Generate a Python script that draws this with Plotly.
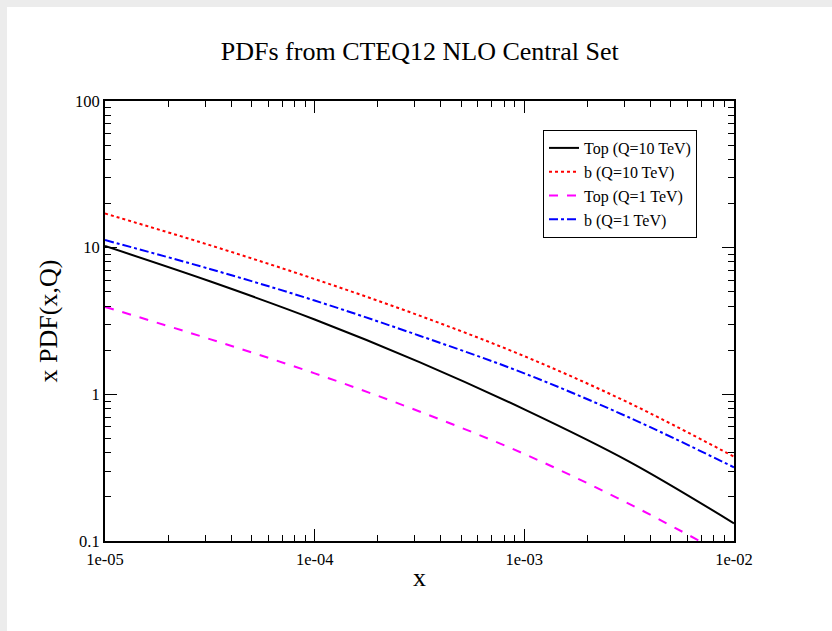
import plotly.graph_objects as go

# Data
x_vals = [1e-5, 3.162e-5, 1e-4, 3.162e-4, 1e-3, 3.162e-3, 1e-2]
top_10tev = [10.26, 5.90, 3.24, 1.66, 0.79, 0.348, 0.132]
b_10tev = [17.1, 10.4, 6.11, 3.44, 1.82, 0.873, 0.376]
top_1tev = [3.95, 2.38, 1.39, 0.764, 0.392, 0.179, 0.0746]
b_1tev = [11.27, 7.16, 4.36, 2.51, 1.39, 0.695, 0.318]

series_names = ["Top (Q=10 TeV)", "b (Q=10 TeV)", "Top (Q=1 TeV)", "b (Q=1 TeV)"]
x_tickvals = [1e-5, 1e-4, 1e-3, 1e-2]
x_ticktext = ["1e-05", "1e-04", "1e-03", "1e-02"]
y_tickvals = [0.1, 1, 10, 100]
y_ticktext = ["0.1", "1", "10", "100"]
x_minor = [k * 10.0 ** d for d in (-5, -4, -3) for k in range(2, 10)]
y_minor = [k * 10.0 ** d for d in (-1, 0, 1) for k in range(2, 10)]

FONT = "Liberation Serif"

fig = go.Figure()
styles = [
    dict(color="black", dash="solid", width=2),
    dict(color="red", dash="dot", width=2),
    dict(color="magenta", dash="dash", width=2),
    dict(color="blue", dash="dashdot", width=2),
]
for name, ys, st in zip(series_names, [top_10tev, b_10tev, top_1tev, b_1tev], styles):
    fig.add_trace(go.Scatter(x=x_vals, y=ys, mode="lines", name=name,
                             line=dict(shape="spline", smoothing=1.0, **st)))

axis_common = dict(
    type="log", showgrid=False, zeroline=False,
    showline=True, linecolor="black", linewidth=2, mirror="allticks",
    ticks="inside", ticklen=12, tickwidth=1, tickcolor="black",
    tickfont=dict(family=FONT, size=16.5, color="black"),
)

fig.update_xaxes(range=[-5, -2], tickvals=x_tickvals, ticktext=x_ticktext,
                 ticklabelstandoff=2,
                 minor=dict(tickvals=x_minor, ticks="inside", ticklen=6, tickwidth=1,
                            tickcolor="black", showgrid=False),
                 title=dict(text="x", font=dict(family=FONT, size=26, color="black"), standoff=0),
                 **axis_common)
fig.update_yaxes(range=[-1, 2], tickvals=y_tickvals, ticktext=y_ticktext,
                 minor=dict(tickvals=y_minor, ticks="inside", ticklen=6, tickwidth=1,
                            tickcolor="black", showgrid=False),
                 title=dict(text="x PDF(x,Q)", font=dict(family=FONT, size=26, color="black"), standoff=10),
                 **axis_common)

# page background: light gray border on top/left
fig.add_shape(type="rect", xref="paper", yref="paper",
              x0=(7 - 105) / 629, x1=(840 - 105) / 629,
              y0=(541 - 640) / 440, y1=(541 - 7) / 440,
              fillcolor="white", line=dict(width=0), layer="below")

fig.update_layout(
    width=832, height=631,
    margin=dict(l=105, r=98, t=101, b=90),
    paper_bgcolor="#ececec", plot_bgcolor="white",
    title=dict(text="PDFs from CTEQ12 NLO Central Set", x=0.5045, xanchor="center",
               y=1 - 51 / 631, yanchor="middle",
               font=dict(family=FONT, size=26, color="black")),
    legend=dict(x=(543 - 105) / 629, y=(541 - 130) / 440, xanchor="left", yanchor="top",
                bgcolor="white", bordercolor="black", borderwidth=1,
                font=dict(family=FONT, size=16, color="black"),
                tracegroupgap=0, itemwidth=30),
    showlegend=True,
)

fig.write_html("out.html")
